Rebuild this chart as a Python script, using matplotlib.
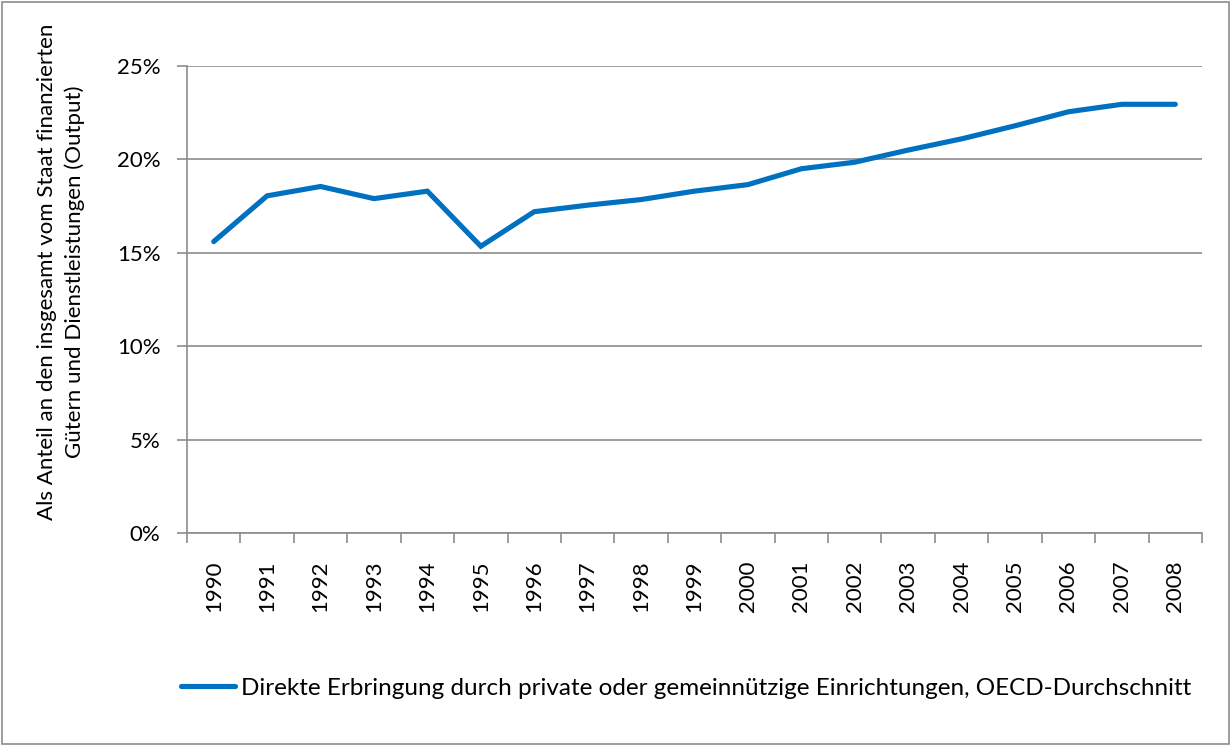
import numpy as np
import matplotlib.pyplot as plt
import matplotlib.ticker as mtick
from matplotlib.patches import Rectangle

plt.rcParams['font.family'] = ['Lato', 'DejaVu Sans']

years = [str(y) for y in range(1990, 2009)]
share = [15.6, 18.05, 18.55, 17.9, 18.3, 15.35, 17.2, 17.55, 17.85, 18.3, 18.65,
         19.5, 19.85, 20.5, 21.1, 21.8, 22.55, 22.95, 22.95]
series_name = 'Direkte Erbringung durch private oder gemeinnützige Einrichtungen, OECD-Durchschnitt'
ylabel = 'Als Anteil an den insgesamt vom Staat finanzierten\nGütern und Dienstleistungen (Output)'

blue = '#0070C0'
grey = '#8C8C8C'

fig = plt.figure(figsize=(12.31, 7.46), dpi=100)
ax = fig.add_axes([187 / 1231, 1 - 533 / 746, (1202 - 187) / 1231, (533 - 66) / 746])

x = np.arange(len(years))
line, = ax.plot(x, share, color=blue, lw=3.7, solid_capstyle='round', solid_joinstyle='miter')

ax.set_xlim(-0.5, len(years) - 0.5)
ax.set_ylim(0, 25)
ax.set_yticks(np.arange(0, 26, 5))
ax.yaxis.set_major_formatter(mtick.FuncFormatter(lambda v, p: '%d%%' % v))
ax.grid(axis='y', color=grey, lw=1.2)
ax.set_axisbelow(True)

# category labels centered, ticks between categories
ax.set_xticks(x)
ax.set_xticklabels(years, rotation=90, fontsize=16)
ax.set_xticks(np.arange(-0.5, len(years), 1), minor=True)
ax.tick_params(axis='x', which='major', length=0, pad=20)
ax.tick_params(axis='x', which='minor', length=7, color=grey, width=1.2, direction='out')
ax.tick_params(axis='y', length=7, color=grey, width=1.2, labelsize=16, pad=12)

for s in ['top', 'right']:
    ax.spines[s].set_visible(False)
for s in ['left', 'bottom']:
    ax.spines[s].set_color(grey)
    ax.spines[s].set_linewidth(1.2)

fig.text(61 / 1231, 1 - 272 / 746, ylabel, rotation=90, ha='center', va='center',
         fontsize=16, linespacing=1.45)

leg = fig.legend([line], [series_name], loc='center', bbox_to_anchor=(686 / 1231, 1 - 688 / 746),
                 frameon=False, fontsize=17.5, handlelength=2.2, handletextpad=0.25)

fig.patches.append(Rectangle((2 / 1231, 2 / 746), 1 - 4 / 1231, 1 - 4 / 746, transform=fig.transFigure,
                             fill=False, edgecolor=grey, lw=1.2))

fig.savefig('out.png', dpi=100)
